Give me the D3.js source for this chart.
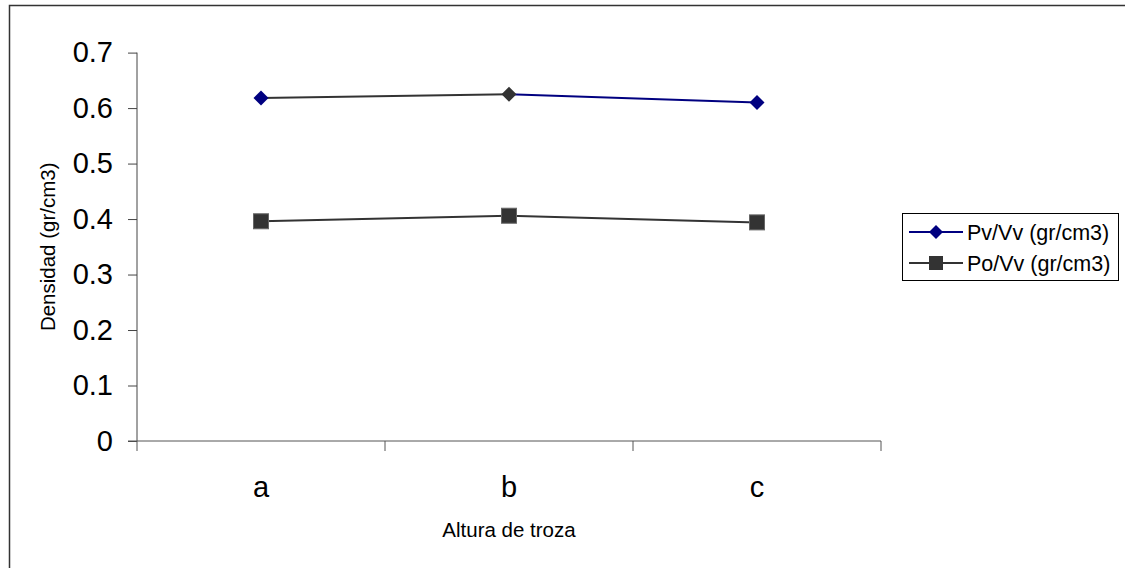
<!DOCTYPE html>
<html>
<head>
<meta charset="utf-8">
<script src="https://cdn.jsdelivr.net/npm/d3@7"></script>
<style>
  body { margin: 0; background: #fff; }
  svg { display: block; font-family: "Liberation Sans", Arial, sans-serif; }
</style>
</head>
<body>
<svg id="chart" width="1125" height="568"></svg>
<script>
// data
const categories = [ 'a', 'b', 'c' ];
const pvVv = [ 0.618, 0.625, 0.610 ];
const poVv = [ 0.396, 0.406, 0.394 ];
const yTicks = [ 0, 0.1, 0.2, 0.3, 0.4, 0.5, 0.6, 0.7 ];
const seriesNames = [ 'Pv/Vv (gr/cm3)', 'Po/Vv (gr/cm3)' ];

const svg = d3.select( '#chart' );

const navy = '#000080';
const dark = '#333333';

// outer frame (only top and left show in the picture)
svg.append( 'path' )
  .attr( 'd', 'M9.5,568V5.5H1125' )
  .attr( 'fill', 'none' )
  .attr( 'stroke', '#333' )
  .attr( 'stroke-width', 1.5 );

const x = d3.scaleBand().domain( categories ).range( [ 137, 881 ] );
const y = d3.scaleLinear().domain( [ 0, 0.7 ] ).range( [ 441, 52.6 ] );
const cx = ( d ) => x( d ) + x.bandwidth() / 2;

// y axis
const yAxis = svg.append( 'g' )
  .attr( 'transform', 'translate(137,0)' )
  .call( d3.axisLeft( y )
    .tickValues( yTicks )
    .tickSize( 9 )
    .tickPadding( 15 )
    .tickFormat( ( d ) => d === 0 ? '0' : d3.format( '.1f' )( d ) ) );
yAxis.select( '.domain' ).attr( 'stroke', '#444' ).attr( 'd', 'M0,441V52.6' );
yAxis.selectAll( '.tick line' ).attr( 'stroke', '#444' );
yAxis.selectAll( 'text' )
  .attr( 'font-size', 29 )
  .attr( 'font-family', '"Liberation Sans", Arial, sans-serif' )
  .attr( 'fill', '#000' );

// x axis: labels at band centres, tick marks at band edges
const xAxis = svg.append( 'g' )
  .attr( 'transform', 'translate(0,441)' )
  .call( d3.axisBottom( x ).tickSize( 0 ).tickPadding( 35 ) );
xAxis.select( '.domain' ).attr( 'stroke', '#555' ).attr( 'd', 'M128,0H881' );
xAxis.selectAll( 'text' )
  .attr( 'font-size', 29 )
  .attr( 'font-family', '"Liberation Sans", Arial, sans-serif' )
  .attr( 'fill', '#000' );

const edges = categories.map( ( d ) => x( d ) ).concat( [ x.range()[ 1 ] ] );
xAxis.selectAll( 'line.edge' )
  .data( edges )
  .join( 'line' )
  .attr( 'class', 'edge' )
  .attr( 'x1', ( d ) => d ).attr( 'x2', ( d ) => d )
  .attr( 'y1', 0 ).attr( 'y2', 10 )
  .attr( 'stroke', '#555' );

// axis titles
svg.append( 'text' )
  .attr( 'x', cx( 'b' ) )
  .attr( 'y', 537 )
  .attr( 'text-anchor', 'middle' )
  .attr( 'font-size', 20.5 )
  .text( 'Altura de troza' );

svg.append( 'text' )
  .attr( 'transform', 'translate(55,' + ( y( 0.35 ) ) + ') rotate(-90)' )
  .attr( 'text-anchor', 'middle' )
  .attr( 'font-size', 20.5 )
  .text( 'Densidad (gr/cm3)' );

// series lines (Excel drew the first Pv segment and the b marker in grey)
const pvPts = categories.map( ( c, i ) => [ cx( c ), y( pvVv[ i ] ) ] );
const poPts = categories.map( ( c, i ) => [ cx( c ), y( poVv[ i ] ) ] );

svg.append( 'path' )
  .attr( 'd', d3.line()( poPts ) )
  .attr( 'fill', 'none' )
  .attr( 'stroke', dark )
  .attr( 'stroke-width', 2 );

svg.append( 'path' )
  .attr( 'd', d3.line()( pvPts.slice( 1 ) ) )
  .attr( 'fill', 'none' )
  .attr( 'stroke', navy )
  .attr( 'stroke-width', 2 );
svg.append( 'path' )
  .attr( 'd', d3.line()( pvPts.slice( 0, 2 ) ) )
  .attr( 'fill', 'none' )
  .attr( 'stroke', dark )
  .attr( 'stroke-width', 2 );

const diamond = ( px, py, r ) => 'M' + px + ',' + ( py - r ) + 'L' + ( px + r ) + ',' + py +
  'L' + px + ',' + ( py + r ) + 'L' + ( px - r ) + ',' + py + 'Z';

svg.selectAll( 'path.pv' )
  .data( pvPts )
  .join( 'path' )
  .attr( 'class', 'pv' )
  .attr( 'd', ( d ) => diamond( d[ 0 ], d[ 1 ], 7.5 ) )
  .attr( 'fill', ( d, i ) => i === 1 ? dark : navy );

svg.selectAll( 'rect.po' )
  .data( poPts )
  .join( 'rect' )
  .attr( 'class', 'po' )
  .attr( 'x', ( d ) => d[ 0 ] - 7.5 )
  .attr( 'y', ( d ) => d[ 1 ] - 7.5 )
  .attr( 'width', 15 )
  .attr( 'height', 15 )
  .attr( 'fill', dark )
  .attr( 'stroke', '#666' )
  .attr( 'stroke-width', 1 );

// legend
const legend = svg.append( 'g' );
legend.append( 'rect' )
  .attr( 'x', 902.5 ).attr( 'y', 213.5 )
  .attr( 'width', 216 ).attr( 'height', 67 )
  .attr( 'fill', '#fff' )
  .attr( 'stroke', '#000' );

const rows = [ 232, 263 ];
const legendColors = [ navy, dark ];
seriesNames.forEach( ( name, i ) => {
  const ry = rows[ i ];
  legend.append( 'line' )
    .attr( 'x1', 909 ).attr( 'x2', 963 )
    .attr( 'y1', ry ).attr( 'y2', ry )
    .attr( 'stroke', legendColors[ i ] )
    .attr( 'stroke-width', 2 );
  if ( i === 0 ) {
    legend.append( 'path' )
      .attr( 'd', diamond( 936, ry, 7 ) )
      .attr( 'fill', navy );
  } else {
    legend.append( 'rect' )
      .attr( 'x', 929 ).attr( 'y', ry - 7 )
      .attr( 'width', 14 ).attr( 'height', 14 )
      .attr( 'fill', dark );
  }
  legend.append( 'text' )
    .attr( 'x', 967 )
    .attr( 'y', ry )
    .attr( 'dy', '0.36em' )
    .attr( 'font-size', 21.5 )
    .text( name );
} );
</script>
</body>
</html>
